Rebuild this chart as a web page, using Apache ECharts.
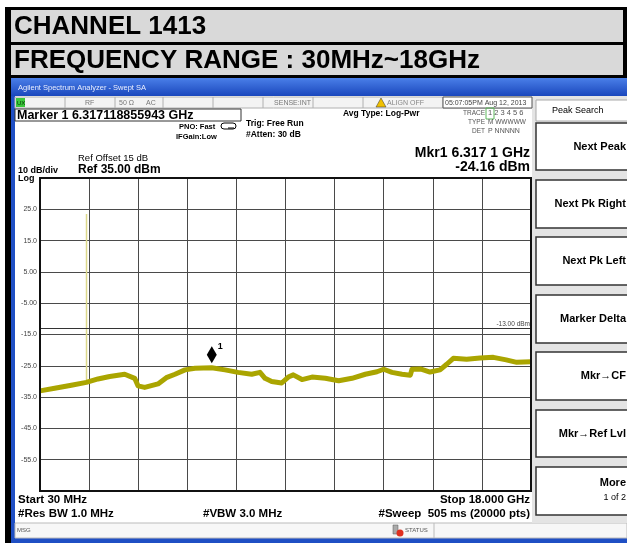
<!DOCTYPE html>
<html><head><meta charset="utf-8">
<script src="https://cdn.jsdelivr.net/npm/echarts@6/dist/echarts.min.js"></script>
<style>html,body{margin:0;padding:0;background:#fff}#c{width:627px;height:543px}</style>
</head><body><div id="c"></div>
<script>
// ---- data ----
const traceFreqMHz = [30, 568, 1176, 1725, 2153, 2581, 3130, 3496, 3617, 3862, 4349, 4653, 4971, 5337, 5703, 6314, 6801, 7277, 7778, 8082, 8265, 8510, 8876, 9118, 9301, 9619, 9985, 10472, 10962, 11449, 11936, 12364, 12609, 12913, 13279, 13583, 13645, 13949, 14304, 14670, 14915, 15157, 15645, 16134, 16622, 17092, 17477, 18000];
const traceLevelDbm = [-33.0, -32.2, -31.2, -30.3, -29.2, -28.4, -27.7, -29.0, -31.4, -31.9, -30.8, -28.8, -27.7, -26.3, -25.8, -25.6, -26.3, -27.1, -27.7, -27.1, -29.0, -30.0, -30.5, -28.6, -27.9, -29.4, -28.6, -29.0, -29.8, -29.0, -27.7, -26.9, -26.1, -27.1, -27.7, -28.0, -26.1, -26.0, -27.0, -26.3, -24.5, -22.6, -22.9, -22.5, -22.3, -23.1, -23.9, -23.7];
const spikeFreqMHz = [1732.6, 1732.6];
const spikeLevelDbm = [-30.3, 23.5];
const markerFreqMHz = 6317.1;
const markerLevelDbm = -24.16;
const limitLevelDbm = -13;
const yTickValues = [-55, -45, -35, -25, -15, -5, 5, 15, 25];
const yTickLabels = ['-55.0', '-45.0', '-35.0', '-25.0', '-15.0', '-5.00', '5.00', '15.0', '25.0'];
const softKeys = ['Next Peak', 'Next Pk Right', 'Next Pk Left', 'Marker Delta', 'Mkr\u2192CF', 'Mkr\u2192Ref Lvl', 'More'];

const FF = '"Liberation Sans", Arial, sans-serif';
function T(text, x, y, size, o) {
  o = o || {};
  return {type: 'text', x: x, y: y, z: 50, silent: true,
    style: {text: text, fill: o.fill || '#000', fontSize: size, fontWeight: o.bold ? 'bold' : 'normal',
      fontFamily: FF, align: o.align || 'left', verticalAlign: 'middle',
      textAlign: o.align || 'left', textVerticalAlign: 'middle'}};
}
function R(x, y, w, h, fill, stroke, lw, z, r) {
  return {type: 'rect', z: z, silent: true, shape: {x: x, y: y, width: w, height: h, r: r || 0},
    style: {fill: fill || 'none', stroke: stroke || 'none', lineWidth: lw || 1}};
}
function L(x1, y1, x2, y2, c, lw, z) {
  return {type: 'line', z: z, silent: true, shape: {x1: x1, y1: y1, x2: x2, y2: y2}, style: {stroke: c, lineWidth: lw || 1}};
}

const g = [];
// outer frame and title bars (backgrounds kept below the axes)
g.push(R(5, 7, 622, 536, '#000', null, 1, -30));
g.push(R(11, 10, 612, 32, '#d9d9d9', null, 1, -29));
g.push(R(11, 45, 612, 30, '#d9d9d9', null, 1, -29));
g.push(T('CHANNEL 1413', 14, 27, 26, {bold: true}));
g.push(T('FREQUENCY RANGE : 30MHz~18GHz', 14, 61, 26, {bold: true}));
// analyzer window
g.push(R(11, 78, 616, 465, '#1f4fc4', null, 1, -28));
g.push({type: 'rect', z: -27, silent: true, shape: {x: 11, y: 78, width: 616, height: 18},
  style: {fill: new echarts.graphic.LinearGradient(0, 0, 0, 1, [{offset: 0, color: '#4a7fe8'}, {offset: 1, color: '#1a47bd'}])}});
g.push(T('Agilent Spectrum Analyzer - Swept SA', 18, 88, 7.5, {fill: '#e8eeff'}));
g.push(R(15, 96, 612, 442, '#fff', null, 1, -26));
// status row
g.push(R(15, 97, 517, 11, '#f3f3f3', '#b0b0b0', 1, 20));
[65, 115, 163, 213, 263, 313, 363, 443].forEach(function (x) { g.push(L(x, 97, x, 108, '#b0b0b0', 1, 21)); });
g.push(R(16, 98, 9, 9, '#3cc83c', null, 1, 22));
g.push(T('UX', 17, 103, 6, {fill: '#003300'}));
g.push(T('RF', 85, 103, 7, {fill: '#777'}));
g.push(T('50 \u03A9', 119, 103, 7, {fill: '#777'}));
g.push(T('AC', 146, 103, 7, {fill: '#777'}));
g.push(T('SENSE:INT', 311, 103, 7, {fill: '#777', align: 'right'}));
g.push({type: 'polygon', z: 22, silent: true, shape: {points: [[381, 98], [376, 107], [386, 107]]}, style: {fill: '#f0c000', stroke: '#333', lineWidth: 0.5}});
g.push(T('ALIGN OFF', 387, 103, 7, {fill: '#888'}));
g.push(R(443, 97, 89, 11, '#fff', '#555', 1, 21));
g.push(T('05:07:05PM Aug 12, 2013', 445, 103, 7, {fill: '#444'}));
// marker box & settings
g.push(R(15, 109, 226, 12, '#fff', '#333', 1, 21));
g.push(T('Marker 1 6.317118855943 GHz', 17, 115.5, 12.5, {bold: true}));
g.push(T('PNO: Fast', 179, 127, 7.5, {bold: true}));
g.push(R(221, 123, 15, 6, '#fff', '#000', 1, 22, 3));
g.push(L(228, 128, 234, 128, '#000', 1, 23));
g.push(T('IFGain:Low', 176, 137, 7.5, {bold: true}));
g.push(T('Trig: Free Run', 246, 124, 8.5, {bold: true}));
g.push(T('#Atten: 30 dB', 246, 135, 8.5, {bold: true}));
g.push(T('Avg Type: Log-Pwr', 343, 114, 8.5, {bold: true}));
g.push(T('TRACE', 485, 113, 6.5, {fill: '#555', align: 'right'}));
g.push(T('1 2 3 4 5 6', 488, 113, 7.5, {fill: '#555'}));
g.push(T('TYPE', 485, 122, 6.5, {fill: '#555', align: 'right'}));
g.push(T('M WWWWW', 488, 122, 6.5, {fill: '#555'}));
g.push(T('DET', 485, 131, 6.5, {fill: '#555', align: 'right'}));
g.push(T('P NNNNN', 488, 131, 7, {fill: '#555'}));
g.push(R(486, 108, 8, 11, 'none', '#5cb85c', 1, 23));
g.push(T('Mkr1 6.317 1 GHz', 530, 153, 14, {bold: true, align: 'right'}));
g.push(T('-24.16 dBm', 530, 167, 14, {bold: true, align: 'right'}));
g.push(T('Ref Offset 15 dB', 78, 158, 9.5));
g.push(T('Ref 35.00 dBm', 78, 170, 12, {bold: true}));
g.push(T('10 dB/div', 18, 171, 9, {bold: true}));
g.push(T('Log', 18, 179, 9, {bold: true}));
// bottom annotations
g.push(T('Start 30 MHz', 18, 500, 11.5, {bold: true}));
g.push(T('Stop 18.000 GHz', 530, 500, 11.5, {bold: true, align: 'right'}));
g.push(T('#Res BW 1.0 MHz', 18, 514, 11.5, {bold: true}));
g.push(T('#VBW 3.0 MHz', 203, 514, 11.5, {bold: true}));
g.push(T('#Sweep  505 ms (20000 pts)', 530, 514, 11.5, {bold: true, align: 'right'}));
g.push(R(15, 523, 612, 15, '#f7f7f7', '#bbb', 1, 20));
g.push(L(434, 523, 434, 538, '#bbb', 1, 21));
g.push(T('MSG', 17, 530.5, 6, {fill: '#555'}));
g.push(R(393, 525, 5, 9, '#aaa', '#555', 0.5, 22));
g.push({type: 'circle', z: 23, silent: true, shape: {cx: 400, cy: 533, r: 3.5}, style: {fill: '#e03020'}});
g.push(T('STATUS', 405, 530.5, 6, {fill: '#555'}));
// soft key panel
g.push(R(532, 96, 95, 427, '#e4e4e4', null, 1, 20));
g.push(R(536, 100, 95, 21, '#fff', '#aaa', 1, 21));
g.push(T('Peak Search', 552, 110.5, 9));
const keyBoxes = [[123, 170], [180, 228], [237, 285], [295, 343], [352, 400], [410, 457], [467, 515]];
keyBoxes.forEach(function (b, i) {
  g.push(R(536, b[0], 95, b[1] - b[0], '#fff', '#333', 1.5, 21));
  if (i < 6) g.push(T(softKeys[i], 626, (b[0] + b[1]) / 2, 11, {bold: true, align: 'right'}));
});
g.push(T(softKeys[6], 626, 483, 11, {bold: true, align: 'right'}));
g.push(T('1 of 2', 626, 498, 9, {align: 'right'}));

const chart = echarts.init(document.getElementById('c'), null, {renderer: 'canvas'});
chart.setOption({
  animation: false,
  backgroundColor: '#fff',
  graphic: {elements: g},
  grid: {left: 40, top: 178, width: 491, height: 313, show: true, borderColor: '#111', borderWidth: 2, z: 10},
  xAxis: [
    {type: 'value', min: 30, max: 18000, show: false, splitLine: {show: false}},
    {type: 'value', min: 0, max: 10, interval: 1, position: 'bottom', axisLabel: {show: false}, axisTick: {show: false}, axisLine: {show: false},
      splitLine: {show: true, lineStyle: {color: '#4a4a4a', width: 1}}}
  ],
  yAxis: {type: 'value', min: -65, max: 35, interval: 10,
    axisLine: {show: false}, axisTick: {show: false},
    splitLine: {show: true, lineStyle: {color: '#4a4a4a', width: 1}},
    axisLabel: {margin: 3, fontSize: 7, color: '#444', fontFamily: FF,
      formatter: function (v) { const i = yTickValues.indexOf(Math.round(v)); return i >= 0 ? yTickLabels[i] : ''; }}},
  series: [
    {type: 'line', name: 'spike', xAxisIndex: 0, z: 3, symbol: 'none', silent: true,
      data: spikeFreqMHz.map(function (f, i) { return [f, spikeLevelDbm[i]]; }),
      lineStyle: {color: '#dcd88a', width: 1.5}},
    {type: 'line', name: 'trace', xAxisIndex: 0, z: 4, symbol: 'none', silent: true,
      data: traceFreqMHz.map(function (f, i) { return [f, traceLevelDbm[i]]; }),
      lineStyle: {color: '#aaa500', width: 5, join: 'round'},
      markLine: {silent: true, symbol: ['none', 'none'], animation: false,
        lineStyle: {color: '#333', width: 1, type: 'solid'},
        label: {show: true, position: 'insideEndTop', formatter: '-13.00 dBm', fontSize: 6.5, color: '#444', distance: 1, fontFamily: FF},
        data: [{yAxis: limitLevelDbm}]},
      markPoint: {silent: true, animation: false,
        data: [{coord: [markerFreqMHz, markerLevelDbm], symbol: 'diamond', symbolSize: [10, 17], symbolOffset: [0, '-50%'],
          itemStyle: {color: '#000'},
          label: {show: true, formatter: '1', position: 'right', distance: 1, offset: [0, -8], fontSize: 9, fontWeight: 'bold', color: '#000', fontFamily: FF}}]}}
  ]
});
</script></body></html>
